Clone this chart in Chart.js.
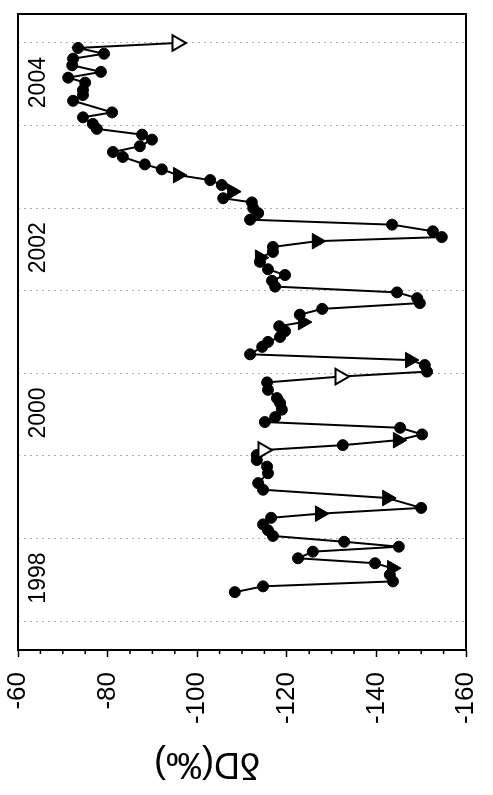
<!DOCTYPE html>
<html>
<head>
<meta charset="utf-8">
<script src="https://cdn.jsdelivr.net/npm/chart.js@4.4.1/dist/chart.umd.min.js"></script>
<style>
  html, body { margin: 0; padding: 0; background: #fff; overflow: hidden; }
  /* the chart is drawn upright and then turned a quarter turn to the left */
  #wrap {
    position: absolute; left: 0; top: 0;
    width: 795px; height: 493px;
    transform-origin: 0 0;
    transform: translate(0, 795px) rotate(-90deg);
  }
</style>
</head>
<body>
<div id="wrap"><canvas id="chart" width="795" height="493"></canvas></div>
<script>
// sampling dates (decimal year)
const decYears = [
  1998.35, 1998.42, 1998.48, 1998.56, 1998.64, 1998.70, 1998.76, 1998.84, 1998.90, 1998.96,
  1999.03, 1999.10, 1999.17, 1999.25, 1999.30, 1999.37, 1999.49, 1999.59, 1999.67, 1999.79,
  1999.87, 1999.95, 2000.01, 2000.07, 2000.13, 2000.19, 2000.26, 2000.34, 2000.41, 2000.47,
  2000.56, 2000.64, 2000.70, 2000.80, 2000.89, 2000.96, 2001.02, 2001.10, 2001.16, 2001.23,
  2001.32, 2001.38, 2001.44, 2001.51, 2001.57, 2001.62, 2001.71, 2001.78, 2001.85, 2001.91,
  2001.98, 2002.05, 2002.12, 2002.19, 2002.26, 2002.35, 2002.40, 2002.47, 2002.53, 2002.60,
  2002.65, 2002.72, 2002.80, 2002.86, 2002.94, 2003.00, 2003.07, 2003.12, 2003.20, 2003.28,
  2003.34, 2003.40, 2003.47, 2003.53, 2003.62, 2003.68, 2003.75, 2003.83, 2003.89, 2003.96,
  2004.02, 2004.10, 2004.16, 2004.30, 2004.37, 2004.43, 2004.52, 2004.58, 2004.65, 2004.73,
  2004.81, 2004.87, 2004.94, 2005.00
];

// deltaD values (per mil)
const deltaD = [
  -108.4, -114.7, -143.7, -143.0, -143.5, -139.7, -122.5, -125.8, -145.0, -132.8,
  -116.9, -115.8, -114.7, -116.5, -127.4, -150.0, -142.4, -114.7, -113.6, -115.8,
  -115.6, -113.3, -113.3, -114.7, -132.5, -144.8, -150.2, -145.3, -115.1, -117.4,
  -118.9, -118.5, -117.8, -115.8, -115.6, -131.9, -151.3, -150.8, -147.5, -111.8,
  -114.5, -115.8, -118.5, -119.6, -118.3, -123.6, -122.9, -127.9, -149.7, -149.1,
  -144.6, -117.4, -116.7, -119.6, -115.8, -114.0, -114.0, -116.9, -116.9, -126.7,
  -154.6, -152.6, -143.5, -111.8, -113.6, -112.5, -112.2, -105.8, -107.8, -105.5,
  -102.9, -95.7, -92.1, -88.3, -83.4, -81.2, -87.2, -89.9, -87.7, -77.6,
  -76.7, -74.5, -81.0, -72.3, -74.5, -74.5, -75.0, -71.2, -78.5, -72.1,
  -72.3, -79.2, -73.4, -95.5
];

// c = filled circle, t = filled triangle, o = open triangle
const markers = (
  'cccctccccc' + 'cccctctccc' + 'cccoctcccc' + 'cccccocctc' + 'ccccctcccc' +
  'cccccctcct' + 'cccccccctc' + 'ctcccccccc' + 'cccccccccc' + 'ccco'
).split('');

const yTicks = [-160, -140, -120, -100, -80, -60];
const gridYears = [1998, 1999, 2000, 2001, 2002, 2003, 2004, 2005];
const yearLabels = [1998, 2000, 2002, 2004];
const axisTitle = 'δD(‰)';

const FONT = '"Liberation Sans", Arial, sans-serif';

const decor = {
  id: 'decor',
  afterDraw(chart) {
    const ctx = chart.ctx;
    const a = chart.chartArea;
    const xs = chart.scales.x, ys = chart.scales.y;
    ctx.save();
    // minor ticks every 5
    ctx.strokeStyle = '#000';
    ctx.lineWidth = 1.5;
    for (let v = -155; v < -60; v += 5) {
      if (v % 20 === 0) continue;
      const py = ys.getPixelForValue(v);
      ctx.beginPath();
      ctx.moveTo(a.left - 4, py);
      ctx.lineTo(a.left, py);
      ctx.stroke();
    }
    // frame
    ctx.lineWidth = 2;
    ctx.strokeRect(a.left, a.top, a.right - a.left, a.bottom - a.top);
    // year labels inside the plot
    ctx.fillStyle = '#000';
    ctx.font = '23px ' + FONT;
    ctx.textAlign = 'center';
    ctx.textBaseline = 'alphabetic';
    yearLabels.forEach(y => {
      ctx.fillText(String(y), xs.getPixelForValue(y + 0.52), a.top + 27);
    });
    // axis title
    ctx.translate(32, 207);
    ctx.rotate(-Math.PI / 2);
    ctx.font = '36px ' + FONT;
    ctx.textBaseline = 'middle';
    ctx.fillText(axisTitle, 0, 0);
    ctx.restore();
  }
};

new Chart(document.getElementById('chart').getContext('2d'), {
  type: 'scatter',
  data: {
    datasets: [{
      data: decYears.map((t, i) => ({ x: t, y: deltaD[i] })),
      showLine: true,
      borderColor: '#000',
      borderWidth: 2,
      pointStyle: markers.map(m => m === 'c' ? 'circle' : 'triangle'),
      rotation: markers.map(m => m === 'c' ? 0 : 180),
      pointRadius: markers.map(m => m === 'c' ? 5.5 : 9),
      pointBackgroundColor: markers.map(m => m === 'o' ? '#fff' : '#000'),
      pointBorderColor: '#000',
      pointBorderWidth: markers.map(m => m === 'o' ? 2 : 1)
    }]
  },
  options: {
    responsive: false,
    animation: false,
    devicePixelRatio: 1,
    layout: { padding: { top: 18, right: 14, left: 0, bottom: 0 } },
    plugins: { legend: { display: false }, tooltip: { enabled: false } },
    scales: {
      x: {
        type: 'linear',
        min: 1997.649,
        max: 2005.351,
        afterBuildTicks: s => { s.ticks = gridYears.map(v => ({ value: v })); },
        afterFit: s => { s.height = 27; },
        ticks: { display: false },
        grid: { color: '#aaa', lineWidth: 1, drawTicks: false },
        border: { color: '#000', width: 2, dash: [2, 4] }
      },
      y: {
        min: -160,
        max: -60,
        afterBuildTicks: s => { s.ticks = yTicks.map(v => ({ value: v })); },
        afterFit: s => { s.width = 145; s.paddingTop = 0; s.paddingBottom = 0; },
        ticks: { color: '#000', padding: 15, font: { family: FONT, size: 26 } },
        grid: { drawOnChartArea: false, drawTicks: true, tickLength: 7, tickColor: '#000', tickWidth: 1.5 },
        border: { color: '#000', width: 2 }
      }
    }
  },
  plugins: [decor]
});
</script>
</body>
</html>
